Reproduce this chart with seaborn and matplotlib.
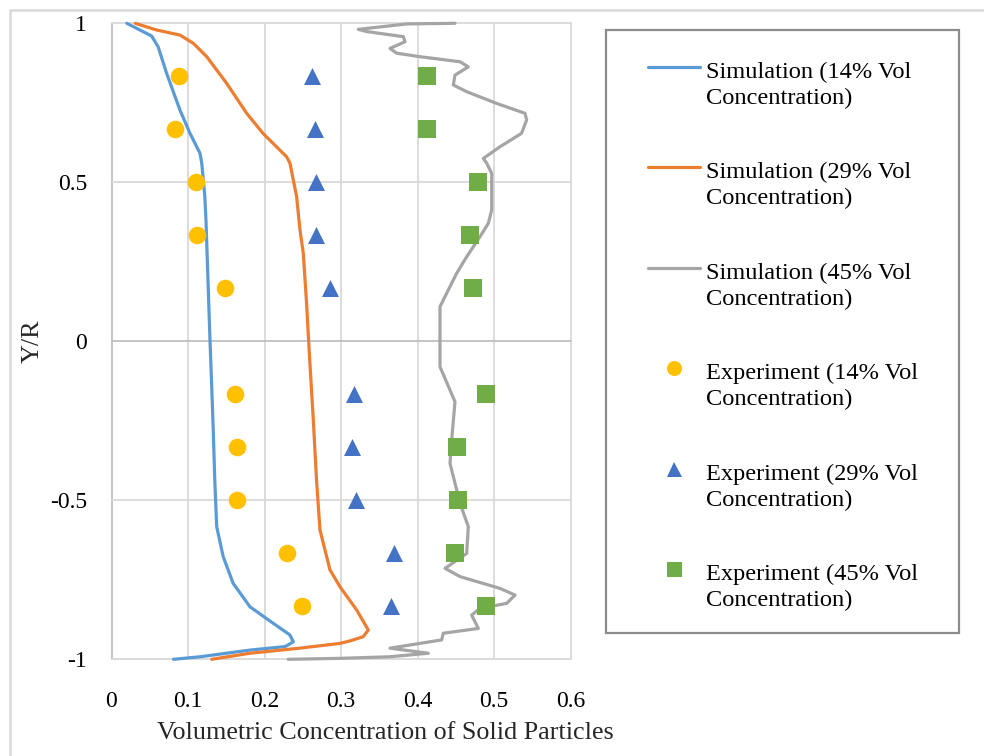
import matplotlib
matplotlib.use("Agg")
import matplotlib.pyplot as plt
import seaborn as sns
from matplotlib.lines import Line2D
from matplotlib.patches import Rectangle

# ---- simulated concentration profiles (x = concentration, y = Y/R) ----
sim14_x = [0.020, 0.0525, 0.061, 0.072, 0.0895, 0.1026, 0.1157, 0.118, 0.122, 0.1235,
           0.126, 0.1288, 0.131, 0.133, 0.135, 0.1375, 0.146, 0.159, 0.181, 0.2115,
           0.233, 0.2377, 0.227, 0.181, 0.116, 0.081]
sim14_y = [1.0, 0.960, 0.926, 0.843, 0.727, 0.654, 0.591, 0.56, 0.455, 0.381,
           0.2, 0.0, -0.143, -0.279, -0.436, -0.583, -0.677, -0.761, -0.835, -0.887,
           -0.923, -0.945, -0.960, -0.971, -0.992, -1.0]

sim29_x = [0.031, 0.059, 0.0895, 0.107, 0.1245, 0.1506, 0.1767, 0.198, 0.229, 0.2333,
           0.242, 0.2464, 0.2507, 0.255, 0.2586, 0.2638, 0.268, 0.2725, 0.2856, 0.2987,
           0.3205, 0.3357, 0.329, 0.312, 0.2987, 0.246, 0.181, 0.131]
sim29_y = [1.0, 0.979, 0.963, 0.937, 0.895, 0.811, 0.717, 0.654, 0.58, 0.56,
           0.455, 0.35, 0.277, 0.12, -0.038, -0.247, -0.436, -0.593, -0.719, -0.772,
           -0.845, -0.908, -0.929, -0.942, -0.95, -0.965, -0.981, -1.0]

sim45_x = [0.449, 0.386, 0.3226, 0.3336, 0.3815, 0.3837, 0.364, 0.3728, 0.4033, 0.4556,
           0.4664, 0.449, 0.4468, 0.4643, 0.5035, 0.5405, 0.5427, 0.536, 0.508, 0.486,
           0.4905, 0.497, 0.497, 0.4926, 0.4817, 0.4643, 0.4512, 0.4294, 0.4294, 0.449,
           0.4447, 0.4425, 0.4556, 0.4664, 0.4643, 0.436, 0.4556, 0.5078, 0.5275, 0.5166,
           0.4817, 0.4708, 0.4795, 0.4337, 0.4316, 0.364, 0.4141, 0.364, 0.2987, 0.231]
sim45_y = [1.0, 0.998, 0.981, 0.974, 0.958, 0.942, 0.921, 0.906, 0.895, 0.879,
           0.863, 0.837, 0.806, 0.785, 0.748, 0.717, 0.696, 0.654, 0.612, 0.575,
           0.56, 0.528, 0.413, 0.371, 0.329, 0.266, 0.214, 0.109, -0.08, -0.19,
           -0.31, -0.384, -0.509, -0.583, -0.667, -0.714, -0.740, -0.777, -0.798, -0.824,
           -0.840, -0.861, -0.903, -0.918, -0.939, -0.965, -0.981, -0.992, -0.997, -1.0]

# ---- measured concentrations ----
exp_y = [0.833, 0.667, 0.5, 0.333, 0.167, -0.167, -0.333, -0.5, -0.667, -0.833]
exp14_x = [0.088, 0.083, 0.110, 0.112, 0.148, 0.161, 0.164, 0.164, 0.229, 0.249]
exp29_x = [0.262, 0.266, 0.267, 0.267, 0.285, 0.317, 0.315, 0.320, 0.369, 0.366]
exp45_x = [0.413, 0.413, 0.479, 0.469, 0.473, 0.489, 0.452, 0.453, 0.449, 0.489]

x_ticks = [0, 0.1, 0.2, 0.3, 0.4, 0.5, 0.6]
x_tick_labels = ["0", "0.1", "0.2", "0.3", "0.4", "0.5", "0.6"]
y_ticks = [-1, -0.5, 0, 0.5, 1]
y_tick_labels = ["-1", "-0.5", "0", "0.5", "1"]

legend_labels = [
    "Simulation (14% Vol\nConcentration)",
    "Simulation (29% Vol\nConcentration)",
    "Simulation (45% Vol\nConcentration)",
    "Experiment (14% Vol\nConcentration)",
    "Experiment (29% Vol\nConcentration)",
    "Experiment (45% Vol\nConcentration)",
]

C_BLUE, C_ORANGE, C_GRAY = "#5B9BD5", "#ED7D31", "#A5A5A5"
C_YELLOW, C_TRI, C_GREEN = "#FFC000", "#4472C4", "#70AD47"

sns.set_style("white")
plt.rcParams["font.family"] = ["Liberation Serif", "DejaVu Serif"]
FS_TICK = 17.0
FS_TITLE = 18.8
FS_LEG = 17.6

W, H = 984, 756
fig = plt.figure(figsize=(W / 100, H / 100), dpi=100)


def fx(px):
    return px / W


def fy(py):
    return 1 - py / H


# outer chart frame
fig.add_artist(Rectangle((fx(10), fy(790)), fx(1010), 780 / H, transform=fig.transFigure,
                         fill=False, edgecolor="#D9D9D9", linewidth=1.8))

left, right, top, bottom = 111.5, 570.5, 23.3, 659.3
ax = fig.add_axes([fx(left), fy(bottom), (right - left) / W, (bottom - top) / H])

ax.set_xlim(0, 0.6)
ax.set_ylim(-1, 1)
for s in ax.spines.values():
    s.set_visible(False)
for t in x_ticks:
    ax.axvline(t, color="#BFBFBF" if t == 0 else "#D9D9D9", lw=1.3, zorder=0)
for t in y_ticks:
    ax.axhline(t, color="#BFBFBF" if t == 0 else "#D9D9D9", lw=1.3, zorder=0)

lw = 2.3
sns.lineplot(x=sim14_x, y=sim14_y, sort=False, estimator=None, color=C_BLUE, lw=lw, ax=ax)
sns.lineplot(x=sim29_x, y=sim29_y, sort=False, estimator=None, color=C_ORANGE, lw=lw, ax=ax)
sns.lineplot(x=sim45_x, y=sim45_y, sort=False, estimator=None, color=C_GRAY, lw=lw, ax=ax)
for ln in ax.lines:
    ln.set_clip_on(False)
    ln.set_solid_joinstyle("round")

sns.scatterplot(x=exp14_x, y=exp_y, marker="o", s=160, color=C_YELLOW, linewidth=0, ax=ax, zorder=3)
sns.scatterplot(x=exp29_x, y=exp_y, marker="^", s=150, color=C_TRI, linewidth=0, ax=ax, zorder=3)
sns.scatterplot(x=exp45_x, y=exp_y, marker="s", s=150, color=C_GREEN, linewidth=0, ax=ax, zorder=3)

ax.set_xticks(x_ticks)
ax.set_xticklabels(x_tick_labels)
ax.set_yticks(y_ticks)
ax.set_yticklabels(y_tick_labels)
ax.tick_params(axis="both", length=0, labelsize=FS_TICK, colors="black")
ax.tick_params(axis="x", pad=23)
ax.tick_params(axis="y", pad=17.5)

ax.set_xlabel("Volumetric Concentration of Solid Particles", fontsize=FS_TITLE, va="center")
ax.xaxis.set_label_coords((385 - left) / (right - left), -(733 - bottom) / (bottom - top))
ax.set_ylabel("Y/R", fontsize=FS_TITLE, va="center")
ax.yaxis.set_label_coords(-(left - 33) / (right - left), 0.5)

# legend panel
fig.add_artist(Rectangle((fx(606), fy(633)), fx(353), 603 / H, transform=fig.transFigure,
                         fill=True, facecolor="white", edgecolor="#8C8C8C", linewidth=1.6))
row_y = [66.7 + 100.5 * i for i in range(6)]
line_colors = [C_BLUE, C_ORANGE, C_GRAY]
mk = [("o", C_YELLOW), ("^", C_TRI), ("s", C_GREEN)]
for i, lab in enumerate(legend_labels):
    yy = row_y[i]
    if i < 3:
        fig.add_artist(Line2D([fx(648), fx(700)], [fy(yy), fy(yy)], transform=fig.transFigure,
                              color=line_colors[i], lw=lw))
    else:
        m, c = mk[i - 3]
        fig.add_artist(Line2D([fx(674)], [fy(yy)], transform=fig.transFigure, marker=m,
                              markersize=10.8, color=c, markeredgewidth=0, linestyle="none"))
    # baseline of the second text line
    fig.text(fx(706), fy(yy + 9.5 + 27.4), lab, fontsize=FS_LEG, va="baseline", ha="left",
             linespacing=1.29, color="black")

fig.savefig("out.png", dpi=100)
